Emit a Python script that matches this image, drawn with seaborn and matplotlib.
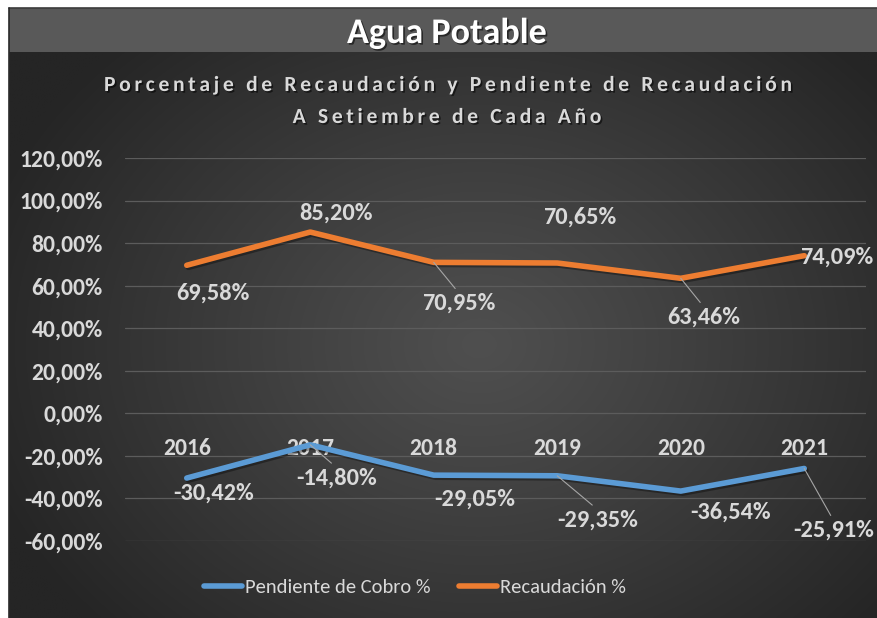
import numpy as np
import pandas as pd
import matplotlib
matplotlib.use("Agg")
import matplotlib.pyplot as plt
import seaborn as sns
from matplotlib.lines import Line2D
from matplotlib.patches import Rectangle
from matplotlib.ticker import FuncFormatter, FixedLocator
from matplotlib import patheffects as pe
from matplotlib.font_manager import FontProperties, findfont
from matplotlib.ft2font import FT2Font

# ---------------- data ----------------
years = [2016, 2017, 2018, 2019, 2020, 2021]
recaudacion = [69.58, 85.20, 70.95, 70.65, 63.46, 74.09]
pendiente = [-30.42, -14.80, -29.05, -29.35, -36.54, -25.91]
series_names = ["Pendiente de Cobro %", "Recaudación %"]
y_ticks = [-60, -40, -20, 0, 20, 40, 60, 80, 100, 120]
title = "Agua Potable"
subtitle_lines = ["Porcentaje de Recaudación y Pendiente de Recaudación",
                  "A Setiembre de Cada Año"]

# ---------------- styling / layout ----------------
FAMILY = "Carlito"
colors = {"Pendiente de Cobro %": "#5b9bd5", "Recaudación %": "#ed7d31"}
TXT = "#d9d9d9"
# label offsets in pixels (dx, dy-down) and whether a leader line is drawn
label_layout = {
    "Recaudación %": [(26, 28, False), (26, -19, False), (25, 41, True),
                      (22, -46, False), (23, 39, True), (32, 1, False)],
    "Pendiente de Cobro %": [(27, 15, False), (26, 33, True), (41, 24, False),
                             (40, 44, True), (50, 21, False), (29, 62, True)],
}

df = pd.DataFrame({
    "Año": years * 2,
    "Valor": pendiente + recaudacion,
    "Serie": [series_names[0]] * len(years) + [series_names[1]] * len(years),
})

sns.set_theme(style="dark")
plt.rcParams["font.family"] = [FAMILY, "DejaVu Sans"]
plt.rcParams["font.weight"] = "bold"

W, H = 878, 618
fig = plt.figure(figsize=(W / 100, H / 100), dpi=100)
fig.patch.set_facecolor("white")


def fx(px):
    return px / W


def fy(py):
    return 1 - py / H


# background radial gradient
bg = fig.add_axes([fx(9), 0, 1 - fx(9), fy(8)])
ny, nx = 300, 430
yy, xx = np.mgrid[0:ny, 0:nx]
cx, cy = nx * 0.54, ny * 0.55
r = np.sqrt(((xx - cx) / (nx * 0.60)) ** 2 + ((yy - cy) / (ny * 0.68)) ** 2)
r = np.clip(r, 0, 1) ** 1.1
c_center = np.array([0x4f, 0x4f, 0x4f]) / 255
c_edge = np.array([0x25, 0x25, 0x25]) / 255
img = c_center[None, None, :] * (1 - r[..., None]) + c_edge[None, None, :] * r[..., None]
bg.imshow(img, aspect="auto", extent=[0, 1, 0, 1], interpolation="bilinear")
bg.set_axis_off()

# title bar
fig.add_artist(Rectangle((fx(9), fy(52)), 1 - fx(9), fy(8) - fy(52),
                         transform=fig.transFigure, facecolor="#595959",
                         edgecolor="none", zorder=1))
fig.add_artist(Line2D([fx(9), 1], [fy(7.5), fy(7.5)], transform=fig.transFigure,
                      color="#3c3c3c", lw=1.2, zorder=2))
fig.add_artist(Line2D([fx(9.5), fx(9.5)], [0, fy(7.5)], transform=fig.transFigure,
                      color="#2a2a2a", lw=1.2, zorder=2))

shadow = [pe.withSimplePatchShadow(offset=(1.2, -1.2), shadow_rgbFace="black", alpha=0.55)]
fig.text(fx(447), fy(33), title, ha="center", va="center", fontsize=26,
         fontweight="bold", color="white", path_effects=shadow, zorder=5)

# letter-spaced subtitle
sub_size = 15.5
prop = FontProperties(family=FAMILY, weight="bold", size=sub_size)
ft = FT2Font(findfont(prop))
ft.set_size(sub_size, 100)


def advances(s):
    out = []
    for ch in s:
        g = ft.load_char(ord(ch))
        out.append(g.linearHoriAdvance / 65536)
    return out


adv1 = advances(subtitle_lines[0])
spacing = (688 - sum(adv1)) / (len(adv1) - 1)
for line, xc, yb in zip(subtitle_lines, [448, 447], [91, 123]):
    adv = advances(line)
    total = sum(adv) + spacing * (len(adv) - 1)
    x = xc - total / 2
    for ch, a in zip(line, adv):
        if ch != " ":
            fig.text(fx(x + a / 2), fy(yb), ch, ha="center", va="baseline",
                     fontproperties=prop, color=TXT, path_effects=shadow, zorder=5)
        x += a + spacing

# main axes
ax = fig.add_axes([fx(125), fy(541), fx(866) - fx(125), fy(158) - fy(541)])
ax.set_facecolor("none")
sns.lineplot(data=df, x="Año", y="Valor", hue="Serie", hue_order=series_names,
             palette=colors, linewidth=4.0, ax=ax, legend=False, sort=False, zorder=3)
for ln in ax.lines:
    ln.set_solid_capstyle("round")
    ln.set_solid_joinstyle("round")
    ln.set_path_effects([pe.SimpleLineShadow(offset=(1.2, -1.5), shadow_color="black", alpha=0.35),
                         pe.Normal()])

ax.set_xlim(years[0] - 0.5, years[-1] + 0.5)
ax.set_ylim(y_ticks[0], y_ticks[-1])
ax.yaxis.set_major_locator(FixedLocator(y_ticks))
ax.yaxis.set_major_formatter(FuncFormatter(lambda v, p: f"{v:.2f}%".replace(".", ",")))
ax.set_xticks(years)
ax.set_xticklabels([str(y) for y in years])
ax.grid(axis="y", color="#5c5c5c", lw=0.9)
ax.grid(axis="x", visible=False)
ax.set_axisbelow(True)
for s in ax.spines.values():
    s.set_visible(False)
ax.spines["bottom"].set_position(("data", 0))
ax.tick_params(axis="y", length=0, pad=16, labelsize=17, labelcolor=TXT)
ax.tick_params(axis="x", length=0, pad=17.5, labelsize=17, labelcolor=TXT)
ax.set_xlabel("")
ax.set_ylabel("")

# data labels
series_vals = {"Recaudación %": recaudacion, "Pendiente de Cobro %": pendiente}
for name, vals in series_vals.items():
    for yr, v, (dx, dy, lead) in zip(years, vals, label_layout[name]):
        kw = {}
        if lead:
            kw["arrowprops"] = dict(arrowstyle="-", color="#a6a6a6", lw=0.8,
                                    shrinkA=1, shrinkB=0, relpos=(0.5, 1.0))
        ax.annotate(f"{v:.2f}%".replace(".", ","), xy=(yr, v),
                    xytext=(dx * 0.72, -dy * 0.72), textcoords="offset points",
                    ha="center", va="center", fontsize=17.5, fontweight="bold",
                    color=TXT, zorder=6, annotation_clip=False, **kw)

# legend
handles = [Line2D([], [], color=colors[n], lw=4.0, solid_capstyle="round") for n in series_names]
fig.legend(handles, series_names, loc="center left", bbox_to_anchor=(fx(204), fy(587)),
           ncol=2, frameon=False, labelcolor=TXT, handlelength=1.85,
           prop=FontProperties(family=FAMILY, weight="normal", size=14.8),
           handletextpad=0.15, columnspacing=1.4, borderpad=0, borderaxespad=0)

fig.savefig("out.png", dpi=100)
